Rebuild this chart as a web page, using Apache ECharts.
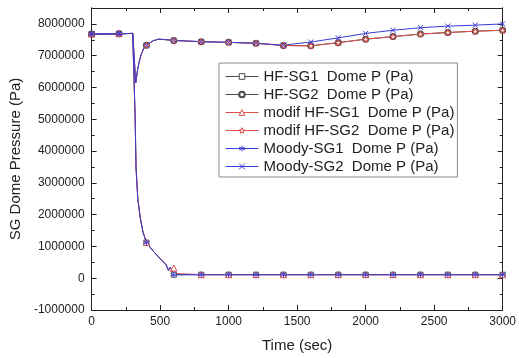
<!DOCTYPE html>
<html>
<head>
<meta charset="utf-8">
<script src="https://cdn.jsdelivr.net/npm/echarts@6/dist/echarts.min.js"></script>
<style>
  html, body { margin: 0; padding: 0; background: #fff; }
  #chart { width: 519px; height: 358px; }
</style>
</head>
<body>
<div id="chart"></div>
<script>
// SG2 stays pressurised (upper curve), SG1 blows down (lower curve)
const timeUpper = [0, 200, 300, 312, 322, 336, 350, 362, 380, 400, 450, 490, 550, 600, 700, 800, 1000, 1200, 1400, 1600, 1800, 2000, 2200, 2400, 2600, 2800, 3000];
const hfSg2    = [7.68e6, 7.69e6, 7.70e6, 7.70e6, 6.15e6, 6.57e6, 6.86e6, 7.04e6, 7.22e6, 7.33e6, 7.47e6, 7.52e6, 7.50e6, 7.48e6, 7.46e6, 7.44e6, 7.42e6, 7.39e6, 7.32e6, 7.31e6, 7.41e6, 7.52e6, 7.60e6, 7.68e6, 7.73e6, 7.77e6, 7.80e6];
const modifSg2 = [7.68e6, 7.69e6, 7.70e6, 7.70e6, 6.15e6, 6.57e6, 6.86e6, 7.04e6, 7.22e6, 7.33e6, 7.47e6, 7.52e6, 7.50e6, 7.48e6, 7.46e6, 7.44e6, 7.42e6, 7.39e6, 7.32e6, 7.31e6, 7.41e6, 7.52e6, 7.60e6, 7.68e6, 7.73e6, 7.77e6, 7.80e6];
const moodySg2 = [7.68e6, 7.69e6, 7.70e6, 7.70e6, 6.15e6, 6.57e6, 6.86e6, 7.04e6, 7.22e6, 7.33e6, 7.47e6, 7.52e6, 7.50e6, 7.48e6, 7.46e6, 7.44e6, 7.42e6, 7.39e6, 7.33e6, 7.43e6, 7.56e6, 7.70e6, 7.80e6, 7.88e6, 7.93e6, 7.96e6, 8.00e6];

const timeLower = [0, 200, 300, 312, 318, 324, 337, 355, 375, 400, 450, 512, 540, 560, 575, 590, 600, 800, 1000, 1200, 1400, 1600, 1800, 2000, 2200, 2400, 2600, 2800, 3000];
const hfSg1    = [7.68e6, 7.69e6, 7.70e6, 7.70e6, 5.0e6, 3.5e6, 2.5e6, 1.9e6, 1.45e6, 1.12e6, 0.85e6, 0.56e6, 0.45e6, 0.25e6, 0.35e6, 0.2e6, 0.11e6, 0.11e6, 0.11e6, 0.11e6, 0.11e6, 0.11e6, 0.11e6, 0.11e6, 0.11e6, 0.11e6, 0.11e6, 0.11e6, 0.11e6];
const moodySg1 = [7.68e6, 7.69e6, 7.70e6, 7.70e6, 5.0e6, 3.5e6, 2.5e6, 1.9e6, 1.45e6, 1.12e6, 0.85e6, 0.56e6, 0.45e6, 0.25e6, 0.35e6, 0.2e6, 0.11e6, 0.11e6, 0.11e6, 0.11e6, 0.11e6, 0.11e6, 0.11e6, 0.11e6, 0.11e6, 0.11e6, 0.11e6, 0.11e6, 0.11e6];
const timeLowerModif = [0, 200, 300, 312, 318, 324, 337, 355, 375, 400, 450, 512, 540, 560, 580, 600, 610, 620, 800, 1000, 1200, 1400, 1600, 1800, 2000, 2200, 2400, 2600, 2800, 3000];
const modifSg1 = [7.68e6, 7.69e6, 7.70e6, 7.70e6, 5.0e6, 3.5e6, 2.5e6, 1.9e6, 1.45e6, 1.12e6, 0.85e6, 0.56e6, 0.45e6, 0.3e6, 0.2e6, 0.32e6, 0.15e6, 0.11e6, 0.11e6, 0.11e6, 0.11e6, 0.11e6, 0.11e6, 0.11e6, 0.11e6, 0.11e6, 0.11e6, 0.11e6, 0.11e6, 0.11e6];

const xTicks = [0, 500, 1000, 1500, 2000, 2500, 3000];
const yTicks = [-1000000, 0, 1000000, 2000000, 3000000, 4000000, 5000000, 6000000, 7000000, 8000000];

const BLACK = '#4a4a4a', RED = '#e0504a', BLUE = '#3a3ad6';
const SYM = {
    square: 'path://M-1,-1L1,-1L1,1L-1,1Z',
    circle: 'emptyCircle',
    triangle: 'path://M0,-1L1,0.8L-1,0.8Z',
    star: 'path://M0,-1L0.24,-0.31L0.95,-0.31L0.38,0.12L0.59,0.81L0,0.39L-0.59,0.81L-0.38,0.12L-0.95,-0.31L-0.24,-0.31Z',
    asterisk: 'path://M0,-1L0,1M-0.87,-0.5L0.87,0.5M-0.87,0.5L0.87,-0.5',
    cross: 'path://M-1,-1L1,1M-1,1L1,-1'
};

function makeSeries(name, times, values, color, symbol, size) {
    const empty = symbol.indexOf('empty') === 0;
    return {
        name: name,
        type: 'line',
        data: times.map((t, i) => t % 200 === 0
            ? [t, values[i]]
            : { value: [t, values[i]], symbol: 'none' }),
        symbol: symbol,
        symbolSize: size,
        showSymbol: true,
        showAllSymbol: true,
        lineStyle: { color: color, width: 1 },
        itemStyle: empty ? { color: color, borderWidth: 1 }
                         : { color: '#fff', borderColor: color, borderWidth: 1 },
        emphasis: { disabled: true },
        xAxisIndex: 0,
        yAxisIndex: 0
    };
}

const font = 'Liberation Sans, Arial, sans-serif';
const chart = echarts.init(document.getElementById('chart'));

const yBase = {
    type: 'value', min: -1000000, max: 8500000, splitLine: { show: false },
    axisLine: { show: true, onZero: false, lineStyle: { color: '#222', width: 1 } },
    axisLabel: { show: false }
};
const xBase = {
    type: 'value', min: 0, max: 3000, interval: 500, splitLine: { show: false },
    axisLine: { show: true, onZero: false, lineStyle: { color: '#222', width: 1 } },
    axisTick: { inside: true, length: 5, lineStyle: { color: '#222' } },
    minorTick: { show: true, splitNumber: 2, length: 3, lineStyle: { color: '#222' } }
};

chart.setOption({
    animation: false,
    backgroundColor: '#fff',
    grid: { left: 91, right: 13, top: 8, bottom: 45 },
    legend: {
        orient: 'vertical',
        left: 219, top: 63,
        padding: [6, 3, 3, 6],
        itemWidth: 33, itemHeight: 7, itemGap: 3,
        borderColor: '#888', borderWidth: 1,
        backgroundColor: '#fff',
        lineStyle: { width: 1 },
        itemStyle: { borderWidth: 1 },
        textStyle: { fontFamily: font, fontSize: 15, color: '#222' },
        data: ['HF-SG1  Dome P (Pa)', 'HF-SG2  Dome P (Pa)', 'modif HF-SG1  Dome P (Pa)',
               'modif HF-SG2  Dome P (Pa)', 'Moody-SG1  Dome P (Pa)', 'Moody-SG2  Dome P (Pa)']
    },
    xAxis: [
        Object.assign({}, xBase, {
            position: 'bottom',
            axisLabel: { fontFamily: font, fontSize: 12, color: '#222', margin: 6,
                         formatter: v => xTicks.includes(v) ? String(v) : '' },
            name: 'Time (sec)', nameLocation: 'middle', nameGap: 28,
            nameTextStyle: { fontFamily: font, fontSize: 15, color: '#222' }
        }),
        Object.assign({}, xBase, { position: 'top', axisLabel: { show: false } })
    ],
    yAxis: [
        Object.assign({}, yBase, {
            position: 'left', interval: 1000000,
            axisTick: { inside: true, length: 5, lineStyle: { color: '#222' } },
            axisLabel: { show: true, fontFamily: font, fontSize: 12, color: '#222', margin: 7,
                         formatter: v => yTicks.includes(v) ? String(v) : '' },
            name: 'SG Dome Pressure (Pa)', nameLocation: 'middle', nameGap: 68,
            nameTextStyle: { fontFamily: font, fontSize: 15, color: '#222' }
        }),
        Object.assign({}, yBase, {
            position: 'left', interval: 500000,
            axisTick: { inside: true, length: 3, lineStyle: { color: '#222' } }
        }),
        Object.assign({}, yBase, {
            position: 'right', interval: 1000000,
            axisTick: { inside: true, length: 5, lineStyle: { color: '#222' } }
        }),
        Object.assign({}, yBase, {
            position: 'right', interval: 500000,
            axisTick: { inside: true, length: 3, lineStyle: { color: '#222' } }
        })
    ],
    series: [
        makeSeries('HF-SG1  Dome P (Pa)', timeLower, hfSg1, BLACK, SYM.square, 5),
        makeSeries('HF-SG2  Dome P (Pa)', timeUpper, hfSg2, BLACK, SYM.circle, 5),
        makeSeries('modif HF-SG1  Dome P (Pa)', timeLowerModif, modifSg1, RED, SYM.triangle, 6),
        makeSeries('modif HF-SG2  Dome P (Pa)', timeUpper, modifSg2, RED, SYM.star, 6),
        makeSeries('Moody-SG1  Dome P (Pa)', timeLower, moodySg1, BLUE, SYM.asterisk, 6),
        makeSeries('Moody-SG2  Dome P (Pa)', timeUpper, moodySg2, BLUE, SYM.cross, 5)
    ]
});
</script>
</body>
</html>
